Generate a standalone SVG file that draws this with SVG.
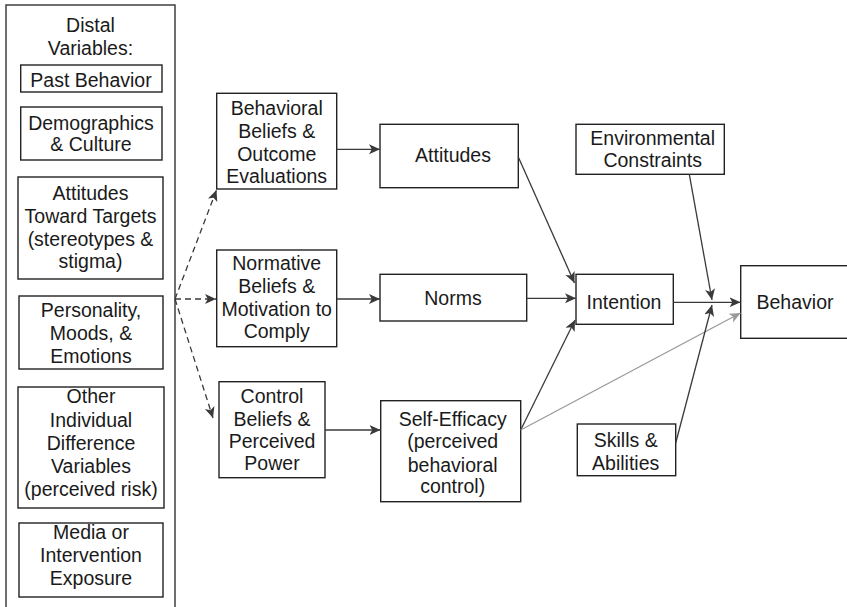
<svg xmlns="http://www.w3.org/2000/svg" width="847" height="607" viewBox="0 0 847 607">
<defs>
<style>
.box{fill:#fff;stroke:#222;stroke-width:1.4}
.outer{fill:#fff;stroke:#333;stroke-width:1.4}
text{font-family:"Liberation Sans",Arial,sans-serif;font-size:19.5px;fill:#1a1a1a;text-anchor:middle}
.ln{fill:none;stroke:#3a3a3a;stroke-width:1.3}
.dash{fill:none;stroke:#3a3a3a;stroke-width:1.3;stroke-dasharray:6 4}
.gray{fill:none;stroke:#9a9a9a;stroke-width:1.3}
</style>
<marker id="ah" markerUnits="userSpaceOnUse" markerWidth="12" markerHeight="11" refX="11" refY="5" orient="auto" viewBox="0 0 12 11">
<path d="M0,0 L11,5 L0,10 L2.8,5 z" fill="#3a3a3a"/>
</marker>
<marker id="ahg" markerUnits="userSpaceOnUse" markerWidth="12" markerHeight="11" refX="11" refY="5" orient="auto" viewBox="0 0 12 11">
<path d="M0,0 L11,5 L0,10 L2.8,5 z" fill="#9a9a9a"/>
</marker>
</defs>
<rect width="847" height="607" fill="#fff"/>

<g id="distal">
<rect class="outer" x="6" y="5" width="169" height="620"/>
<text x="90.5" y="31.5">Distal</text>
<text x="90.5" y="55">Variables:</text>
</g>
<g id="past-behavior">
<rect class="box" x="20.7" y="65" width="141.3" height="27"/>
<text x="91" y="87">Past Behavior</text>
</g>
<g id="demographics">
<rect class="box" x="20.7" y="107" width="141.3" height="53"/>
<text x="91" y="129.5">Demographics</text>
<text x="91" y="151">&amp; Culture</text>
</g>
<g id="attitudes-targets">
<rect class="box" x="18" y="177" width="145" height="102"/>
<text x="90.5" y="200">Attitudes</text>
<text x="90.5" y="222.7">Toward Targets</text>
<text x="90.5" y="245.5">(stereotypes &amp;</text>
<text x="90.5" y="268">stigma)</text>
</g>
<g id="personality">
<rect class="box" x="19" y="296" width="144" height="73"/>
<text x="91" y="316.7">Personality,</text>
<text x="91" y="339.5">Moods, &amp;</text>
<text x="91" y="362.5">Emotions</text>
</g>
<g id="other-individual">
<rect class="box" x="18" y="387" width="146" height="121"/>
<text x="91" y="403.3">Other</text>
<text x="91" y="426.5">Individual</text>
<text x="91" y="449.5">Difference</text>
<text x="91" y="472.5">Variables</text>
<text x="91" y="496">(perceived risk)</text>
</g>
<g id="media">
<rect class="box" x="19" y="523" width="144" height="74"/>
<text x="91" y="538.5">Media or</text>
<text x="91" y="561.7">Intervention</text>
<text x="91" y="585">Exposure</text>
</g>

<g id="behavioral-beliefs">
<rect class="box" x="216.7" y="93.3" width="120" height="95.7"/>
<text x="276.7" y="115">Behavioral</text>
<text x="276.7" y="138.3">Beliefs &amp;</text>
<text x="276.7" y="161">Outcome</text>
<text x="276.7" y="182.7">Evaluations</text>
</g>
<g id="normative-beliefs">
<rect class="box" x="216.7" y="250" width="120" height="96.7"/>
<text x="276.7" y="270">Normative</text>
<text x="276.7" y="293">Beliefs &amp;</text>
<text x="276.7" y="316">Motivation to</text>
<text x="276.7" y="338">Comply</text>
</g>
<g id="control-beliefs">
<rect class="box" x="219" y="381.7" width="106" height="96"/>
<text x="272" y="403">Control</text>
<text x="272" y="425.7">Beliefs &amp;</text>
<text x="272" y="448.3">Perceived</text>
<text x="272" y="470">Power</text>
</g>
<g id="attitudes">
<rect class="box" x="380" y="124.3" width="138.3" height="63.4"/>
<text x="453" y="161.7">Attitudes</text>
</g>
<g id="norms">
<rect class="box" x="380" y="274.3" width="146.7" height="46.7"/>
<text x="453" y="305">Norms</text>
</g>
<g id="self-efficacy">
<rect class="box" x="380.7" y="400.7" width="140" height="101"/>
<text x="452.7" y="426">Self-Efficacy</text>
<text x="452.7" y="448.3">(perceived</text>
<text x="452.7" y="471.7">behavioral</text>
<text x="452.7" y="493.3">control)</text>
</g>
<g id="environmental">
<rect class="box" x="576" y="124.3" width="148.3" height="50"/>
<text x="652.7" y="145">Environmental</text>
<text x="652.7" y="167.3">Constraints</text>
</g>
<g id="intention">
<rect class="box" x="576" y="274.3" width="97.3" height="50"/>
<text x="624" y="309">Intention</text>
</g>
<g id="skills">
<rect class="box" x="577.3" y="424" width="98.4" height="51.7"/>
<text x="625.7" y="446.7">Skills &amp;</text>
<text x="625.7" y="470">Abilities</text>
</g>
<g id="behavior">
<rect class="box" x="740.7" y="265.7" width="110" height="72.6"/>
<text x="795" y="309.3">Behavior</text>
</g>

<g id="connectors">
<path class="dash" d="M175,299 L216.5,190" marker-end="url(#ah)"/>
<path class="dash" d="M175,299 L216,299" marker-end="url(#ah)"/>
<path class="dash" d="M175,299 L213,418" marker-end="url(#ah)"/>
<path class="ln" d="M336.7,149.3 L380,149.3" marker-end="url(#ah)"/>
<path class="ln" d="M336.7,299 L380,299" marker-end="url(#ah)"/>
<path class="ln" d="M325,430 L380.5,430" marker-end="url(#ah)"/>
<path class="ln" d="M518.3,157 L574.5,283" marker-end="url(#ah)"/>
<path class="ln" d="M526.7,298.3 L576,298.3" marker-end="url(#ah)"/>
<path class="ln" d="M520.7,430 L575,320" marker-end="url(#ah)"/>
<path class="gray" d="M520.7,430 L740.5,313" marker-end="url(#ahg)"/>
<path class="ln" d="M673.3,302.3 L740.5,302.3" marker-end="url(#ah)"/>
<path class="ln" d="M689.3,174.3 L712,300" marker-end="url(#ah)"/>
<path class="ln" d="M675.7,443 L712,305" marker-end="url(#ah)"/>
</g>
</svg>
